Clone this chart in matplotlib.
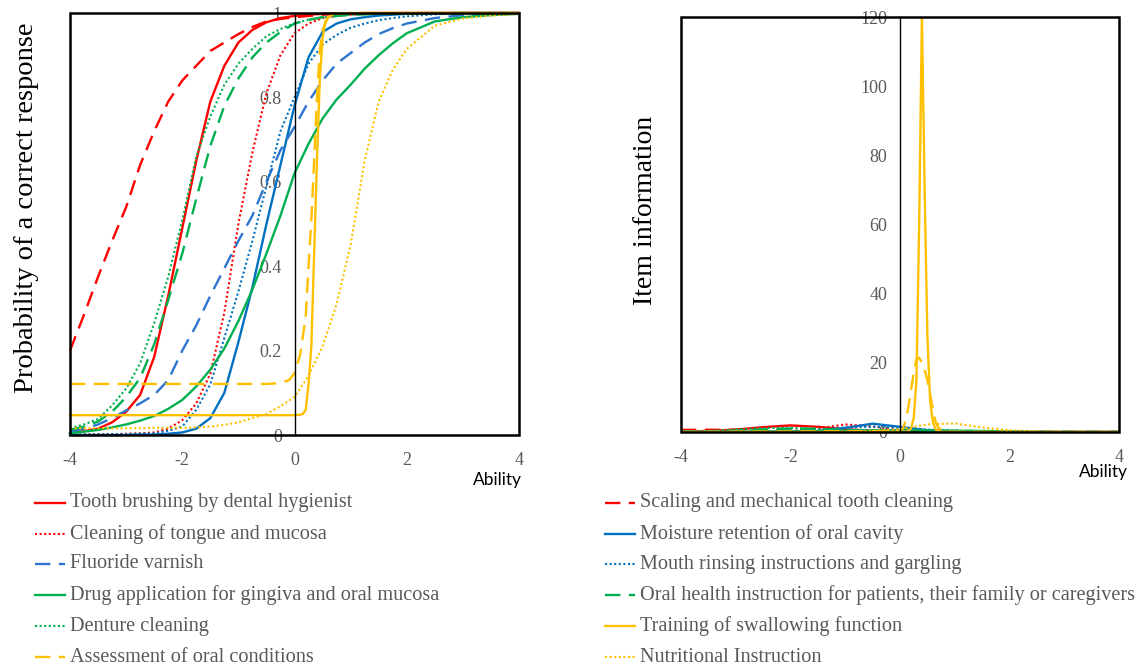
import matplotlib.pyplot as plt
from matplotlib.lines import Line2D
from matplotlib.patches import Rectangle

# ability grid used for most curves
theta = [-4, -3.75, -3.5, -3.25, -3, -2.75, -2.5, -2.25, -2, -1.75, -1.5, -1.25, -1, -0.75, -0.5,
         -0.25, 0, 0.25, 0.5, 0.75, 1, 1.25, 1.5, 1.75, 2, 2.5, 3, 3.5, 4]

# item characteristic curves (probability of a correct response)
p_tooth = [0.005, 0.009, 0.015, 0.03, 0.055, 0.095, 0.185, 0.33, 0.49, 0.65, 0.79, 0.875, 0.93, 0.96, 0.978,
           0.988, 0.993, 0.996, 0.998, 0.999, 0.999, 1, 1, 1, 1, 1, 1, 1, 1]
p_scaling = [0.2, 0.285, 0.375, 0.46, 0.54, 0.64, 0.72, 0.79, 0.84, 0.875, 0.91, 0.93, 0.95, 0.967, 0.98,
             0.986, 0.99, 0.993, 0.996, 0.997, 0.998, 0.9985, 0.999, 0.9995, 1, 1, 1, 1, 1]
p_tongue = [0.001, 0.001, 0.002, 0.002, 0.003, 0.004, 0.006, 0.015, 0.035, 0.075, 0.145, 0.29, 0.5, 0.67, 0.81,
            0.9, 0.952, 0.975, 0.988, 0.993, 0.996, 0.997, 0.998, 0.999, 0.999, 1, 1, 1, 1]
p_moisture = [0, 0, 0, 0, 0, 0.001, 0.001, 0.003, 0.006, 0.015, 0.04, 0.1, 0.22, 0.35, 0.5,
              0.64, 0.78, 0.895, 0.955, 0.975, 0.985, 0.99, 0.994, 0.996, 0.998, 0.999, 1, 1, 1]
p_fluoride = [0.008, 0.015, 0.025, 0.04, 0.058, 0.075, 0.095, 0.13, 0.2, 0.26, 0.33, 0.395, 0.46, 0.52, 0.6,
              0.675, 0.73, 0.79, 0.84, 0.88, 0.905, 0.93, 0.95, 0.964, 0.975, 0.988, 0.995, 0.998, 1]
p_rinsing = [0.001, 0.001, 0.001, 0.002, 0.002, 0.003, 0.004, 0.01, 0.02, 0.06, 0.12, 0.23, 0.34, 0.46, 0.59,
             0.72, 0.8, 0.88, 0.925, 0.948, 0.965, 0.975, 0.983, 0.988, 0.992, 0.997, 0.999, 1, 1]
p_drug = [0.004, 0.008, 0.012, 0.018, 0.025, 0.034, 0.045, 0.062, 0.083, 0.115, 0.155, 0.205, 0.27, 0.345, 0.43,
          0.52, 0.62, 0.69, 0.75, 0.795, 0.83, 0.868, 0.9, 0.928, 0.952, 0.98, 0.99, 0.995, 0.998]
p_oral_health = [0.012, 0.02, 0.032, 0.055, 0.09, 0.135, 0.215, 0.32, 0.43, 0.56, 0.685, 0.78, 0.845, 0.895, 0.93,
                 0.955, 0.975, 0.984, 0.99, 0.993, 0.996, 0.997, 0.998, 0.999, 0.999, 1, 1, 1, 1]
p_denture = [0.016, 0.025, 0.038, 0.07, 0.11, 0.17, 0.265, 0.375, 0.51, 0.66, 0.755, 0.83, 0.88, 0.915, 0.945,
             0.962, 0.976, 0.984, 0.99, 0.993, 0.996, 0.997, 0.998, 0.999, 0.999, 1, 1, 1, 1]
p_nutrition = [0.016, 0.016, 0.016, 0.016, 0.016, 0.016, 0.017, 0.017, 0.017, 0.018, 0.02, 0.024, 0.03, 0.04, 0.05,
               0.068, 0.09, 0.14, 0.21, 0.31, 0.45, 0.65, 0.79, 0.865, 0.915, 0.97, 0.987, 0.994, 0.998]

theta_swallow = [-4, 0, 0.1, 0.15, 0.2, 0.25, 0.3, 0.35, 0.4, 0.45, 0.5, 0.55, 0.6, 0.7, 1, 2, 4]
p_swallow = [0.047, 0.047, 0.048, 0.05, 0.06, 0.12, 0.21, 0.43, 0.65, 0.84, 0.94, 0.98, 0.99, 0.998, 1, 1, 1]

theta_assess = [-4, -1, -0.5, -0.25, -0.1, 0, 0.1, 0.2, 0.25, 0.3, 0.35, 0.4, 0.45, 0.5, 0.6, 0.7, 1, 2, 4]
p_assess = [0.121, 0.121, 0.121, 0.123, 0.13, 0.146, 0.19, 0.28, 0.4, 0.51, 0.65, 0.8, 0.91, 0.96,
            0.99, 0.998, 1, 1, 1]

# item information curves
theta_i = [-4, -3.5, -3, -2.5, -2, -1.5, -1, -0.5, 0, 0.5, 1, 1.5, 2, 2.5, 3, 3.5, 4]
i_tooth = [0.15, 0.3, 0.7, 1.4, 1.9, 1.5, 0.8, 0.35, 0.15, 0.06, 0.02, 0.01, 0, 0, 0, 0, 0]
i_scaling = [0.6, 0.65, 0.62, 0.5, 0.35, 0.22, 0.13, 0.07, 0.04, 0.02, 0.01, 0, 0, 0, 0, 0, 0]
i_tongue = [0, 0, 0.01, 0.05, 0.25, 1.0, 2.2, 1.6, 0.6, 0.2, 0.06, 0.02, 0, 0, 0, 0, 0]
i_moisture = [0, 0, 0, 0.01, 0.05, 0.3, 1.2, 2.4, 1.5, 0.5, 0.15, 0.05, 0.01, 0, 0, 0, 0]
i_fluoride = [0.1, 0.18, 0.25, 0.3, 0.35, 0.35, 0.35, 0.35, 0.35, 0.32, 0.3, 0.25, 0.2, 0.13, 0.08, 0.05, 0.03]
i_rinsing = [0, 0, 0.02, 0.1, 0.3, 0.8, 1.3, 1.5, 1.2, 0.7, 0.35, 0.15, 0.06, 0.02, 0.01, 0, 0]
i_drug = [0.02, 0.04, 0.06, 0.1, 0.18, 0.26, 0.35, 0.45, 0.5, 0.45, 0.38, 0.3, 0.18, 0.08, 0.03, 0.01, 0.005]
i_oral_health = [0.05, 0.15, 0.4, 0.75, 1.0, 0.9, 0.6, 0.35, 0.2, 0.08, 0.03, 0.01, 0.005, 0, 0, 0, 0]
i_denture = [0.1, 0.3, 0.7, 1.1, 1.2, 0.9, 0.5, 0.3, 0.15, 0.06, 0.02, 0.01, 0, 0, 0, 0, 0]
i_nutrition = [0, 0, 0, 0, 0.02, 0.05, 0.1, 0.3, 0.8, 2.2, 2.5, 1.3, 0.5, 0.15, 0.05, 0.02, 0]

theta_i_swallow = [-4, 0, 0.1, 0.15, 0.2, 0.25, 0.3, 0.35, 0.4, 0.45, 0.5, 0.55, 0.6, 0.65, 0.7, 0.8, 1, 4]
i_swallow = [0, 0, 0.05, 0.3, 1, 4, 15, 60, 120, 70, 28, 9, 3, 0.8, 0.2, 0.02, 0, 0]
theta_i_assess = [-4, 0, 0.05, 0.1, 0.15, 0.2, 0.25, 0.3, 0.35, 0.4, 0.45, 0.5, 0.55, 0.6, 0.65, 0.7, 0.8, 1, 4]
i_assess = [0, 0.3, 1, 3, 7, 12, 17, 21, 21.5, 20, 18, 15, 11, 6.5, 3, 1.2, 0.2, 0.02, 0]

labels = ['Tooth brushing by dental hygienist', 'Scaling and mechanical tooth cleaning',
          'Cleaning of tongue and mucosa', 'Moisture retention of oral cavity',
          'Fluoride varnish', 'Mouth rinsing instructions and gargling',
          'Drug application for gingiva and oral mucosa',
          'Oral health instruction for patients, their family or caregivers',
          'Denture cleaning', 'Training of swallowing function',
          'Assessment of oral conditions', 'Nutritional Instruction']

RED, BLUE, BLUE2, GREEN, YELLOW = '#FF0000', '#0070C0', '#2E75D0', '#00B050', '#FFC000'
SOLID = '-'
DASH = (0, (6.5, 3.6))
DOT = (0, (1, 1.2))

series = [
    (theta, p_tooth, theta_i, i_tooth, RED, SOLID),
    (theta, p_scaling, theta_i, i_scaling, RED, DASH),
    (theta, p_tongue, theta_i, i_tongue, RED, DOT),
    (theta, p_moisture, theta_i, i_moisture, BLUE, SOLID),
    (theta, p_fluoride, theta_i, i_fluoride, BLUE2, DASH),
    (theta, p_rinsing, theta_i, i_rinsing, BLUE, DOT),
    (theta, p_drug, theta_i, i_drug, GREEN, SOLID),
    (theta, p_oral_health, theta_i, i_oral_health, GREEN, DASH),
    (theta, p_denture, theta_i, i_denture, GREEN, DOT),
    (theta_swallow, p_swallow, theta_i_swallow, i_swallow, YELLOW, SOLID),
    (theta_assess, p_assess, theta_i_assess, i_assess, YELLOW, DASH),
    (theta, p_nutrition, theta_i, i_nutrition, YELLOW, DOT),
]

SERIF = 'Liberation Serif'
GRAY = '#595959'

W, H = 1141, 670
fig = plt.figure(figsize=(W / 100, H / 100), dpi=100)
ax1 = fig.add_axes([70 / W, 1 - 435 / H, 449 / W, 422 / H])
ax2 = fig.add_axes([681 / W, 1 - 432 / H, 438 / W, 415 / H])

for x, p, xi, info, color, ls in series:
    lw = 1.5 if ls == DOT else 1.7
    ax1.plot(x, p, color=color, linestyle=ls, lw=lw, clip_on=False)
    ax2.plot(xi, info, color=color, linestyle=ls, lw=lw)

yt1 = [0, 0.2, 0.4, 0.6, 0.8, 1]
yt2 = [0, 20, 40, 60, 80, 100, 120]
for ax, yt, ymax in ((ax1, yt1, 1), (ax2, yt2, 120)):
    ax.set_xlim(-4, 4)
    ax.set_ylim(0, ymax)
    ax.set_xticks([-4, -2, 0, 2, 4])
    ax.set_xticklabels(['-4', '-2', '0', '2', '4'])
    ax.set_yticks(yt)
    ax.set_yticklabels([f'{v:g}' for v in yt])
    ax.spines['left'].set_position(('data', 0))
    ax.spines['left'].set_linewidth(1.0)
    for s in ('top', 'right', 'bottom'):
        ax.spines[s].set_visible(False)
    ax.add_patch(Rectangle((0, 0), 1, 1, transform=ax.transAxes, fill=False,
                           lw=1.8, ec='black', zorder=5, clip_on=False))
    ax.tick_params(length=0, labelcolor=GRAY, labelsize=13)
    ax.tick_params(axis='x', pad=12)
    ax.tick_params(axis='y', pad=9)
    for lab in ax.get_xticklabels() + ax.get_yticklabels():
        lab.set_fontfamily(SERIF)

ax1.text(1.006, -0.107, 'Ability', transform=ax1.transAxes, ha='right', va='center',
         fontsize=12.5, fontfamily='Lato')
ax2.text(1.02, -0.096, 'Ability', transform=ax2.transAxes, ha='right', va='center',
         fontsize=12.5, fontfamily='Lato')

fig.text(27 / W, 1 - 208 / H, 'Probability of a correct response', rotation=90,
         ha='center', va='center', fontsize=20.5, fontfamily=SERIF)
fig.text(645 / W, 1 - 210 / H, 'Item information', rotation=90,
         ha='center', va='center', fontsize=20, fontfamily=SERIF)

# legend: two columns, entries in row order
rows_y = [503, 534, 564, 595, 626, 657]
for k, (label, s) in enumerate(zip(labels, series)):
    col, row = k % 2, k // 2
    x0 = 35 if col == 0 else 605
    y = 1 - rows_y[row] / H
    lw = 1.5 if s[5] == DOT else 1.7
    fig.add_artist(Line2D([x0 / W, (x0 + 30) / W], [y, y], transform=fig.transFigure,
                          color=s[4], linestyle=s[5], lw=lw))
    fig.text((x0 + 35) / W, y, label, ha='left', va='center', fontsize=14.6,
             fontfamily=SERIF, color=GRAY)

fig.savefig('out.png', dpi=100)
